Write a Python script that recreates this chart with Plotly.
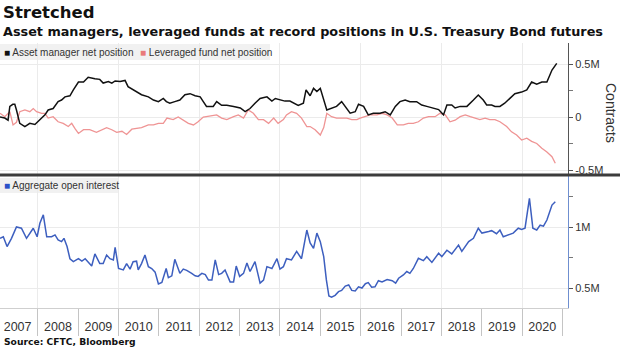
import plotly.graph_objects as go

# ---------------- data (values in millions of contracts) ----------------
am_dates = ["2007-01-24","2007-03-08","2007-04-07","2007-04-23","2007-05-20","2007-06-07","2007-06-22","2007-07-22",
            "2007-09-06","2007-10-21","2007-12-06","2008-01-20","2008-03-06","2008-04-04","2008-05-19","2008-07-03",
            "2008-08-03","2008-09-03","2008-10-18","2008-11-18","2009-01-03","2009-02-18","2009-04-01","2009-06-01",
            "2009-07-15","2009-08-15","2009-10-01","2009-11-01","2009-12-01","2010-01-15","2010-03-01","2010-03-28",
            "2010-05-13","2010-06-13","2010-07-28","2010-09-28","2010-11-13","2010-12-28","2011-02-10","2011-03-10",
            "2011-04-10","2011-05-25","2011-07-10","2011-08-25","2011-10-10","2011-11-25","2012-01-10","2012-02-07",
            "2012-03-07","2012-05-07","2012-06-07","2012-07-22","2012-09-07","2012-11-07","2013-01-07","2013-02-20",
            "2013-04-05","2013-05-20","2013-07-05","2013-09-05","2013-10-20","2013-11-20","2014-01-01","2014-02-15",
            "2014-04-01","2014-05-15","2014-06-15","2014-08-01","2014-08-25","2014-10-01","2014-11-01","2014-12-01",
            "2015-01-01","2015-03-01","2015-04-13","2015-05-28","2015-07-13","2015-08-28","2015-09-28","2015-11-13",
            "2015-12-13","2016-01-28","2016-03-10","2016-04-25","2016-06-25","2016-08-10","2016-09-25","2016-11-10",
            "2016-12-22","2017-02-07","2017-03-22","2017-05-22","2017-07-07","2017-08-22","2017-10-22","2017-12-07",
            "2018-01-20","2018-02-20","2018-04-05","2018-05-05","2018-06-20","2018-08-20","2018-10-18","2018-12-01",
            "2019-01-15","2019-02-15","2019-04-01","2019-05-01","2019-06-15","2019-07-28","2019-09-13","2019-10-28",
            "2019-12-28","2020-02-13","2020-03-28","2020-05-13","2020-06-28","2020-08-13","2020-09-28","2020-11-10"]
am_values = [0.00,-0.01,-0.03,0.10,0.12,0.12,0.066,-0.06,
             -0.09,-0.06,-0.07,-0.03,0.02,0.066,0.08,0.145,
             0.16,0.19,0.20,0.255,0.33,0.33,0.375,0.36,
             0.355,0.32,0.335,0.32,0.34,0.335,0.345,0.286,
             0.255,0.24,0.21,0.19,0.16,0.145,0.175,0.145,
             0.13,0.145,0.16,0.21,0.22,0.20,0.19,0.145,
             0.10,0.10,0.145,0.11,0.11,0.10,0.085,0.05,
             0.08,0.13,0.175,0.19,0.15,0.175,0.165,0.15,
             0.15,0.13,0.11,0.13,0.255,0.20,0.27,0.24,
             0.27,0.066,0.08,0.10,0.145,0.08,0.036,0.05,
             0.12,0.10,0.02,0.036,0.036,0.05,0.02,0.10,
             0.145,0.16,0.145,0.145,0.113,0.10,0.085,0.07,
             0.02,0.113,0.113,0.085,0.10,0.10,0.16,0.207,
             0.16,0.113,0.113,0.10,0.10,0.13,0.176,0.22,
             0.235,0.255,0.33,0.31,0.33,0.33,0.443,0.506]

lf_dates = ["2007-01-24","2007-03-08","2007-04-23","2007-05-22","2007-06-22","2007-07-22","2007-09-06","2007-10-21",
            "2007-11-21","2007-12-21","2008-02-05","2008-03-06","2008-04-04","2008-05-19","2008-07-03","2008-08-18",
            "2008-10-03","2008-11-03","2008-12-03","2009-01-03","2009-02-18","2009-04-15","2009-06-15","2009-08-01",
            "2009-09-15","2009-11-01","2009-12-15","2010-02-01","2010-03-15","2010-05-01","2010-06-13","2010-07-28",
            "2010-09-28","2010-11-13","2010-12-28","2011-02-10","2011-03-15","2011-05-10","2011-06-25","2011-08-10",
            "2011-09-25","2011-11-10","2011-12-22","2012-02-07","2012-04-07","2012-06-07","2012-07-22","2012-09-07",
            "2012-11-07","2012-12-20","2013-02-05","2013-03-20","2013-05-05","2013-06-20","2013-08-05","2013-09-20",
            "2013-11-05","2013-12-15","2014-02-01","2014-03-01","2014-04-15","2014-06-01","2014-07-15","2014-09-01",
            "2014-10-01","2014-11-15","2015-01-01","2015-02-01","2015-03-01","2015-04-13","2015-05-28","2015-07-13",
            "2015-08-28","2015-10-13","2015-11-28","2015-12-28","2016-02-13","2016-03-28","2016-05-28","2016-07-13",
            "2016-08-28","2016-10-13","2016-11-28","2017-01-22","2017-03-07","2017-04-22","2017-06-07","2017-07-22",
            "2017-09-07","2017-11-05","2017-12-20","2018-02-05","2018-03-20","2018-05-05","2018-06-20","2018-08-05",
            "2018-09-20","2018-11-05","2018-12-15","2019-02-01","2019-03-15","2019-05-01","2019-06-15","2019-08-15",
            "2019-09-28","2019-11-13","2019-12-28","2020-02-13","2020-03-28","2020-05-13","2020-06-28","2020-08-13",
            "2020-09-28","2020-10-28"]
lf_values = [0.035,0.003,0.05,-0.075,-0.05,0.05,0.066,0.05,
             0.08,0.05,0.035,0.035,-0.01,0.003,-0.045,-0.06,
             -0.09,-0.06,-0.11,-0.155,-0.12,-0.12,-0.145,-0.12,
             -0.10,-0.12,-0.145,-0.135,-0.165,-0.115,-0.105,-0.10,
             -0.075,-0.075,-0.06,-0.06,-0.01,-0.025,0.0,-0.03,
             -0.06,-0.075,-0.045,0.0,0.01,0.02,-0.01,-0.025,
             0.003,0.02,-0.01,0.066,0.035,-0.025,-0.025,-0.06,
             -0.01,-0.06,-0.025,0.02,0.05,0.035,-0.01,-0.09,
             -0.09,-0.12,-0.17,-0.10,0.035,0.003,-0.01,-0.01,
             -0.01,-0.025,-0.025,-0.01,0.003,0.02,0.02,0.035,
             0.02,-0.01,-0.075,-0.075,-0.06,-0.06,-0.045,-0.01,
             0.003,0.003,0.035,0.02,-0.045,-0.03,0.003,0.02,
             0.003,-0.01,-0.025,-0.01,-0.025,-0.025,-0.045,-0.09,
             -0.14,-0.17,-0.217,-0.20,-0.23,-0.25,-0.295,-0.33,
             -0.375,-0.437]

oi_dates = ["2007-01-24","2007-02-23","2007-03-29","2007-05-08","2007-06-22","2007-08-06","2007-09-21","2007-11-06",
            "2007-11-21","2007-12-26","2008-01-20","2008-02-20","2008-03-22","2008-05-05","2008-06-05","2008-07-03",
            "2008-08-03","2008-08-25","2008-09-22","2008-10-18","2008-11-18","2009-01-03","2009-02-03","2009-03-05",
            "2009-04-01","2009-05-03","2009-06-01","2009-07-15","2009-08-15","2009-09-15","2009-10-15","2009-11-15",
            "2009-12-01","2010-01-01","2010-02-13","2010-03-15","2010-04-15","2010-05-13","2010-06-13","2010-06-28",
            "2010-07-28","2010-08-28","2010-09-28","2010-10-28","2010-11-28","2010-12-28","2011-01-28","2011-03-08",
            "2011-03-28","2011-04-28","2011-05-25","2011-07-10","2011-08-10","2011-09-10","2011-10-25","2011-11-25",
            "2011-12-22","2012-01-25","2012-02-25","2012-03-25","2012-04-25","2012-05-25","2012-06-25","2012-07-22",
            "2012-08-22","2012-10-07","2012-11-07","2012-12-01","2013-01-01","2013-02-05","2013-03-08","2013-04-05",
            "2013-05-20","2013-07-05","2013-08-05","2013-09-05","2013-10-20","2013-12-05","2014-01-01","2014-02-01",
            "2014-03-01","2014-04-15","2014-06-01","2014-07-15","2014-09-01","2014-10-01","2014-11-01","2014-12-01",
            "2015-01-01","2015-02-01","2015-02-25","2015-03-20","2015-04-13","2015-05-15","2015-06-15","2015-07-13",
            "2015-08-15","2015-09-15","2015-10-13","2015-11-13","2015-12-13","2016-01-13","2016-02-13","2016-03-10",
            "2016-04-10","2016-05-10","2016-06-10","2016-07-13","2016-08-28","2016-10-13","2016-11-13","2016-12-10",
            "2017-01-22","2017-02-22","2017-03-22","2017-04-22","2017-06-07","2017-07-22","2017-08-22","2017-10-07",
            "2017-12-07","2018-01-05","2018-02-20","2018-04-05","2018-06-05","2018-07-05","2018-09-05","2018-10-18",
            "2018-12-01","2019-01-03","2019-03-05","2019-04-01","2019-05-15","2019-06-15","2019-07-15","2019-08-28",
            "2019-10-13","2019-11-28","2019-12-28","2020-01-28","2020-03-08","2020-04-08","2020-05-13","2020-06-13",
            "2020-07-13","2020-08-13","2020-09-28","2020-10-28"]
oi_values = [0.907,0.92,0.84,0.907,1.0,0.99,0.907,0.975,
             0.99,0.92,1.03,1.10,0.92,0.92,0.935,0.895,
             0.88,0.907,0.84,0.74,0.716,0.74,0.72,0.74,
             0.716,0.68,0.78,0.70,0.70,0.77,0.74,0.73,
             0.833,0.66,0.648,0.70,0.655,0.716,0.72,0.648,
             0.70,0.77,0.675,0.66,0.63,0.533,0.545,0.66,
             0.585,0.60,0.735,0.62,0.655,0.645,0.62,0.60,
             0.595,0.62,0.61,0.565,0.565,0.73,0.61,0.62,
             0.648,0.55,0.55,0.68,0.595,0.62,0.705,0.635,
             0.716,0.54,0.565,0.675,0.66,0.74,0.655,0.675,
             0.74,0.73,0.80,0.74,0.975,0.87,0.825,0.95,
             0.88,0.757,0.566,0.434,0.424,0.44,0.47,0.48,
             0.516,0.525,0.48,0.475,0.51,0.50,0.535,0.544,
             0.506,0.51,0.56,0.55,0.57,0.56,0.54,0.58,
             0.607,0.635,0.62,0.66,0.743,0.724,0.757,0.71,
             0.785,0.757,0.81,0.78,0.852,0.80,0.88,0.907,
             0.99,0.95,0.963,0.97,0.945,0.975,0.92,0.935,
             0.95,0.99,0.98,0.99,1.235,0.99,0.975,1.015,
             1.007,1.057,1.18,1.207]

top_tickvals = [-0.5, 0, 0.5]
top_ticktext = ["-0.5M", "0", "0.5M"]
bot_tickvals = [0.5, 1.0]
bot_ticktext = ["0.5M", "1M"]

name_am = "Asset manager net position"
name_lf = "Leveraged fund net position"
name_oi = "Aggregate open interest"

# ---------------- styling ----------------
FONT = "DejaVu Sans"
SANS = "Liberation Sans"
BLACK = "#111111"
PINK = "#ef9494"
PINK_SQ = "#e97a7a"
BLUE = "#3d5fbf"
BLUE_SQ = "#2b50c8"
GRID = "#ebebeb"
W, H = 620, 348
ML, MR, MT, MB = 0, 52, 43, 40
PH = H - MT - MB
PW = W - ML - MR

def py(px):  # pixel row -> paper y
    return (H - MB - px) / PH

def pxx(px):  # pixel col -> paper x
    return (px - ML) / PW

xrange = ["2007-01-24", "2021-02-20"]

fig = go.Figure()
fig.add_trace(go.Scatter(x=lf_dates, y=lf_values, mode="lines", line=dict(color=PINK, width=1.3),
                         name=name_lf, showlegend=False, xaxis="x", yaxis="y", hoverinfo="skip"))
fig.add_trace(go.Scatter(x=am_dates, y=am_values, mode="lines", line=dict(color=BLACK, width=1.5),
                         name=name_am, showlegend=False, xaxis="x", yaxis="y", hoverinfo="skip"))
fig.add_trace(go.Scatter(x=oi_dates, y=oi_values, mode="lines", line=dict(color=BLUE, width=1.5),
                         name=name_oi, showlegend=False, xaxis="x2", yaxis="y2", hoverinfo="skip"))
# empty traces on the overlay axes (year separators / year labels)
fig.add_trace(go.Scatter(x=[None], y=[None], showlegend=False, xaxis="x3", yaxis="y2", hoverinfo="skip"))
fig.add_trace(go.Scatter(x=[None], y=[None], showlegend=False, xaxis="x4", yaxis="y2", hoverinfo="skip"))

top_lo, top_hi = py(174), 1.0
bot_lo, bot_hi = 0.0, py(176)

grid_x = dict(range=xrange, type="date", showgrid=True, gridcolor=GRID, gridwidth=1,
              dtick="M24", tick0="2008-01-01", showticklabels=False, ticks="",
              showline=False, zeroline=False, fixedrange=True)

fig.update_layout(
    width=W, height=H,
    margin=dict(l=ML, r=MR, t=MT, b=MB),
    paper_bgcolor="white", plot_bgcolor="white",
    font=dict(family=SANS, size=11, color="#333333"),
    showlegend=False,
    xaxis=dict(**grid_x, domain=[0, 1], anchor="y"),
    xaxis2=dict(**grid_x, domain=[0, 1], anchor="y2"),
    # year separator ticks
    xaxis3=dict(range=xrange, type="date", overlaying="x2", anchor="y2", side="bottom",
                showgrid=False, zeroline=False, dtick="M12", tick0="2007-01-01",
                showticklabels=False, ticks="outside", ticklen=27,
                tickcolor="#c4c4c4", tickwidth=1, showline=True, linecolor="#cfcfcf",
                fixedrange=True),
    # year labels centred in each year
    xaxis4=dict(range=xrange, type="date", overlaying="x2", anchor="y2", side="bottom",
                showgrid=False, zeroline=False, ticklabelmode="period", dtick="M12",
                tick0="2007-01-01", tickformat="%Y", ticks="", ticklabelstandoff=9,
                showline=False, tickfont=dict(size=12.5, color="#333333", family=SANS),
                fixedrange=True),
    yaxis=dict(domain=[top_lo, top_hi], anchor="x", side="right",
               range=[-(174 - 117) / 106, (117 - 43) / 106],
               tickmode="array", tickvals=top_tickvals, ticktext=top_ticktext,
               showgrid=True, gridcolor=GRID, zeroline=False,
               showline=True, linecolor="#555555", linewidth=1,
               ticks="outside", ticklen=4, tickcolor="#555555",
               minor=dict(tickmode="linear", tick0=0, dtick=0.25, ticks="outside",
                          ticklen=4, tickcolor="#777777", showgrid=False),
               tickfont=dict(size=11, color="#333333", family=SANS), fixedrange=True),
    yaxis2=dict(domain=[bot_lo, bot_hi], anchor="x2", side="right",
                range=[0.5 - (308 - 288) / 122, 1 + (227 - 176) / 122],
                tickmode="array", tickvals=bot_tickvals, ticktext=bot_ticktext,
                showgrid=True, gridcolor=GRID, zeroline=False,
                showline=True, linecolor="#6f8fd0", linewidth=1,
                ticks="outside", ticklen=4, tickcolor="#555555",
                minor=dict(tickmode="linear", tick0=0, dtick=0.25, ticks="outside",
                           ticklen=4, tickcolor="#777777", showgrid=False),
                tickfont=dict(size=11, color="#333333", family=SANS), fixedrange=True),
)

# legend backgrounds
fig.add_shape(type="rect", xref="paper", yref="paper", x0=0, x1=pxx(270), y0=py(60), y1=py(44),
              fillcolor="#f1f1f1", line=dict(width=0), layer="below")
fig.add_shape(type="rect", xref="paper", yref="paper", x0=0, x1=pxx(119), y0=py(193), y1=py(178),
              fillcolor="#f1f1f1", line=dict(width=0), layer="below")

# separator between panels
fig.add_shape(type="line", xref="paper", yref="paper", x0=0, x1=W / PW, y0=py(175), y1=py(175),
              line=dict(color="#3c3c3c", width=3))

def legend_item(x_px, y_px, color, label):
    fig.add_annotation(
        text=f"<span style='color:{color};font-size:10px'>■</span> {label}",
        xref="paper", yref="paper", x=pxx(x_px), y=py(y_px), xanchor="left", yanchor="middle",
        showarrow=False, font=dict(family=SANS, size=10, color="#333333"))

legend_item(2, 52, BLACK, name_am)
legend_item(138, 52, PINK_SQ, name_lf)
legend_item(2, 185.5, BLUE_SQ, name_oi)

fig.add_annotation(text="<b>Stretched</b>", xref="paper", yref="paper", x=pxx(1), y=py(12),
                   xanchor="left", yanchor="middle", showarrow=False,
                   font=dict(family=FONT, size=16.5, color="#111111"))
fig.add_annotation(text="<b>Asset managers, leveraged funds at record positions in U.S. Treasury Bond futures</b>",
                   xref="paper", yref="paper", x=pxx(1), y=py(31), xanchor="left", yanchor="middle",
                   showarrow=False, font=dict(family=FONT, size=12.8, color="#111111"))
fig.add_annotation(text="<b>Source: CFTC, Bloomberg</b>", xref="paper", yref="paper", x=pxx(2), y=py(341),
                   xanchor="left", yanchor="middle", showarrow=False,
                   font=dict(family=FONT, size=9.2, color="#111111"))
fig.add_annotation(text="Contracts", xref="paper", yref="paper", x=pxx(611), y=py(113),
                   xanchor="center", yanchor="middle", textangle=90, showarrow=False,
                   font=dict(family=SANS, size=14, color="#333333"))

fig.write_html("out.html")
